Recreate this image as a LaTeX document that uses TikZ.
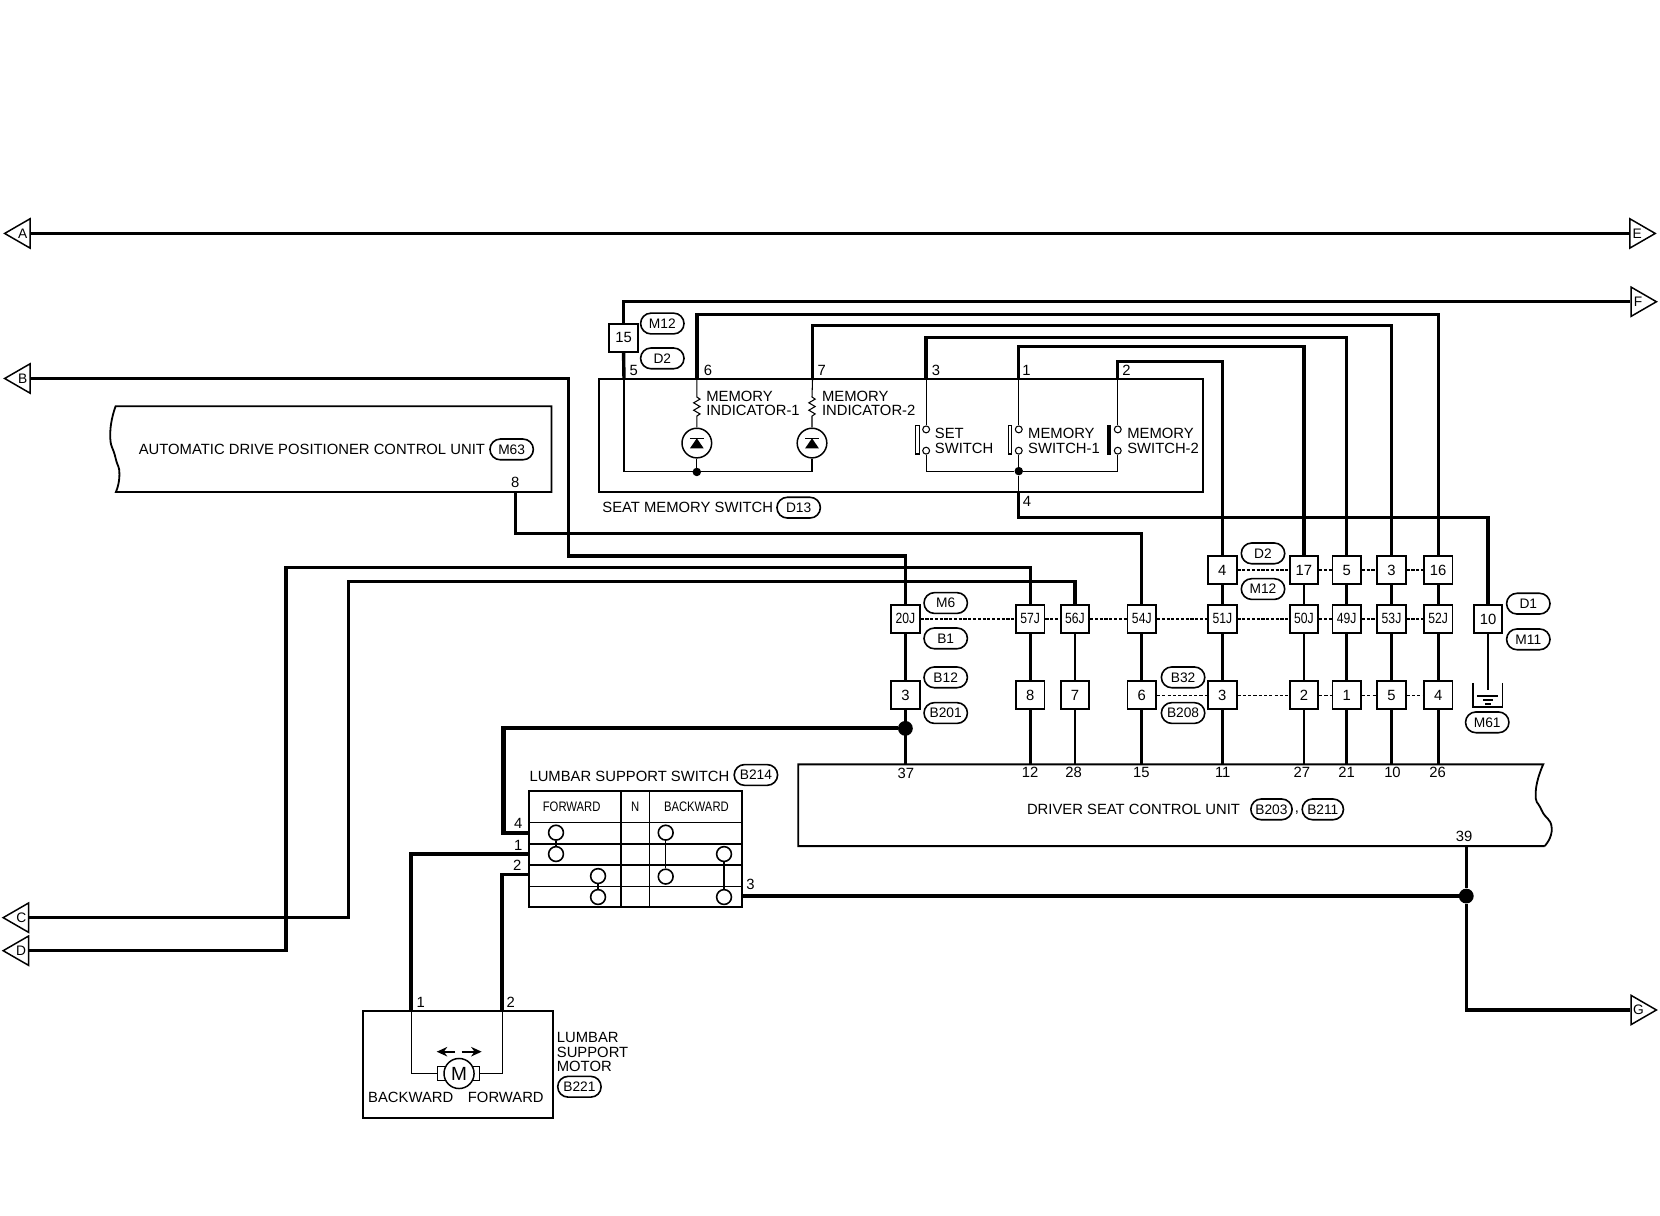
\documentclass[tikz,border=0pt]{standalone}
\usepackage{fontspec}
\usepackage{tikz}
\usetikzlibrary{shapes.geometric,shapes.misc,arrows.meta}
\setmainfont{Liberation Sans}
\newfontfamily\condfont[FakeStretch=0.82]{Liberation Sans}
\newcommand{\lblfont}{\fontsize{14}{14}\selectfont}
\newcommand{\tagfont}{\fontsize{13}{13}\selectfont}
\newcommand{\smallfont}{\condfont\fontsize{14}{14}\selectfont}
\tikzset{
	wire/.style={line width=3.2pt,line join=miter},
	thickwire/.style={line width=4pt,line join=miter},
	medwire/.style={line width=2.5pt},
	thinwire/.style={line width=1pt},
	boxline/.style={line width=1.7pt},
	joint/.style={line width=1.6pt,dash pattern=on 3pt off 1.5pt},
	thinjoint/.style={line width=.8pt,dash pattern=on 3pt off 2pt},
	conn/.style={draw,fill=white,line width=1.7pt,minimum width=27pt,minimum height=26.5pt,inner sep=0pt,font=\lblfont},
	jconn/.style={conn,font=\smallfont},
	tagbox/.style={draw,rounded rectangle,line width=1.5pt,minimum width=41pt,minimum height=19.6pt,inner sep=0pt,font=\tagfont},
	lbl/.style={inner sep=0pt,font=\lblfont,anchor=west,align=left},
	pinno/.style={inner sep=0pt,font=\lblfont},
	offleft/.style={draw,isosceles triangle,isosceles triangle apex angle=60,shape border rotate=180,minimum height=24pt,inner sep=0pt,line width=1.4pt,font=\tagfont,anchor=apex},
	offright/.style={offleft,shape border rotate=0},
	dot/.style={circle,fill=black,inner sep=0pt,minimum size=8pt},
	bigdot/.style={circle,fill=black,inner sep=0pt,minimum size=14pt},
	contact/.style={draw,circle,fill=white,line width=1.5pt,inner sep=0pt,minimum size=14pt},
	terminal/.style={draw,circle,fill=white,line width=1pt,inner sep=0pt,minimum size=6.5pt},
	lamp/.style={draw,circle,line width=1.4pt,inner sep=0pt,minimum size=28pt}
}
\begin{document}
\begin{tikzpicture}[x=1pt,y=-1pt]
	\useasboundingbox (0,0) rectangle (1568,1148.6);
	\node[offleft] (A) at (3,220.5) {A};
	\node[offleft] (B) at (3,357.5) {B};
	\node[offleft] (C) at (1.6,866.8) {C};
	\node[offleft] (D) at (1.6,898) {D};
	\node[offright,anchor=apex] (E) at (1564.9,220.5) {E};
	\node[offright,anchor=apex] (F) at (1566,285) {F};
	\node[offright,anchor=apex] (G) at (1566,954) {G};
	\draw[boxline] (565.5,358) rectangle (1136.4,464.4);
	\draw[boxline] (520.9,383.8) -- (109.2,383.8) -- plot[smooth,tension=1] coordinates {(109.2,383.8) (104.1,410) (109,432) (112.8,448) (109.5,464.7)} -- (520.9,464.7) -- cycle;
	\draw[boxline] (1459,799.2) -- (754,799.2) -- (754,722) -- (1457.7,722) -- plot[smooth,tension=1] coordinates {(1457.7,722) (1450.6,748) (1456,765) (1465.7,782) (1459,799.2)};
	\draw[boxline] (342.6,954.7) rectangle (522.7,1056.4);
	\coordinate (sw5) at (589.4,358);
	\coordinate (sw6) at (658.2,358);
	\coordinate (sw7) at (767.5,358);
	\coordinate (sw3) at (874.8,358);
	\coordinate (sw1) at (962.3,358);
	\coordinate (sw2) at (1055.8,358);
	\coordinate (sw4) at (962.3,464.4);
	\coordinate (up6) at (658.2,296.9);
	\coordinate (up7) at (767.5,307.5);
	\coordinate (up3) at (874.8,318.6);
	\coordinate (up1) at (962.3,327.5);
	\coordinate (up2) at (1055.8,341.6);
	\coordinate (down4) at (962.3,488.7);
	\coordinate (upB) at (536.9,525);
	\coordinate (upC) at (329,549);
	\coordinate (upD) at (270,536);
	\coordinate (m63p8) at (487,464.7);
	\coordinate (down8) at (487,504);
	\coordinate (u37) at (855.2,722);
	\coordinate (u12) at (973.1,722);
	\coordinate (u28) at (1015.4,722);
	\coordinate (u15) at (1078.5,722);
	\coordinate (u11) at (1154.6,722);
	\coordinate (u27) at (1231.7,722);
	\coordinate (u21) at (1272.1,722);
	\coordinate (u10) at (1314.4,722);
	\coordinate (u26) at (1358.5,722);
	\coordinate (u39) at (1385,799.2);
	\coordinate (gndtop) at (1405.6,652);
	\coordinate (mot1) at (388.3,954.7);
	\coordinate (mot2) at (474.2,954.7);
	\coordinate (sw44) at (475.5,688);
	\coordinate (tbl4) at (500,786.6);
	\coordinate (tbl1) at (500,806.7);
	\coordinate (tbl2) at (500,825.9);
	\coordinate (tbl3) at (700.5,846.4);
	\node[conn] (c15) at (589,319) {15};
	\node[conn] (a4) at (1154.6,538.5) {4};
	\node[conn] (a17) at (1231.7,538.5) {17};
	\node[conn] (a5) at (1272.1,538.5) {5};
	\node[conn] (a3) at (1314.4,538.5) {3};
	\node[conn] (a16) at (1358.5,538.5) {16};
	\node[jconn] (j20) at (855.2,584.5) {20J};
	\node[jconn] (j57) at (973.1,584.5) {57J};
	\node[jconn] (j56) at (1015.4,584.5) {56J};
	\node[jconn] (j54) at (1078.5,584.5) {54J};
	\node[jconn] (j51) at (1154.6,584.5) {51J};
	\node[jconn] (j50) at (1231.7,584.5) {50J};
	\node[jconn] (j49) at (1272.1,584.5) {49J};
	\node[jconn] (j53) at (1314.4,584.5) {53J};
	\node[jconn] (j52) at (1358.5,584.5) {52J};
	\node[conn] (c10) at (1405.6,585) {10};
	\node[conn] (b3) at (855.2,656.5) {3};
	\node[conn] (b8) at (973.1,656.5) {8};
	\node[conn] (b7) at (1015.4,656.5) {7};
	\node[conn] (b6) at (1078.5,656.5) {6};
	\node[conn] (d3) at (1154.6,656.5) {3};
	\node[conn] (d2) at (1231.7,656.5) {2};
	\node[conn] (d1) at (1272.1,656.5) {1};
	\node[conn] (d5) at (1314.4,656.5) {5};
	\node[conn] (d4) at (1358.5,656.5) {4};
	\node[bigdot] (dot37) at (855.2,688) {};
	\node[bigdot] (dot39) at (1385,846.4) {};
	\draw[wire] (A.east) -- (E.west);
	\draw[wire] (F.west) -| (c15.north);
	\draw[wire] (c15.south) -- (sw5);
	\draw[wire] (sw6) -- (up6) -| (a16.north);
	\draw[wire] (sw7) -- (up7) -| (a3.north);
	\draw[wire] (sw3) -- (up3) -| (a5.north);
	\draw[wire] (sw1) -- (up1) -| (a17.north);
	\draw[wire] (sw2) -- (up2) -| (a4.north);
	\draw[wire] (sw4) -- (down4) -| (c10.north);
	\draw[wire] (B.east) -| (upB) -| (j20.north);
	\draw[wire] (C.east) -| (upC) -| (j56.north);
	\draw[wire] (D.east) -| (upD) -| (j57.north);
	\draw[wire] (m63p8) -- (down8) -| (j54.north);
	\foreach \top/\mid in {a4/j51,a17/j50,a5/j49,a3/j53,a16/j52} {
		\draw[medwire] (\top.south) -- (\mid.north);
	}
	\foreach \mid/\low in {j20/b3,j57/b8,j56/b7,j54/b6,j51/d3,j50/d2,j49/d1,j53/d5,j52/d4} {
		\draw[medwire] (\mid.south) -- (\low.north);
	}
	\foreach \low/\pin in {b3/u37,b8/u12,b7/u28,b6/u15,d3/u11,d2/u27,d1/u21,d5/u10,d4/u26} {
		\draw[medwire] (\low.south) -- (\pin);
	}
	\draw[medwire] (c10.south) -- (gndtop);
	\foreach \s/\t in {a4/a17,a17/a5,a5/a3,a3/a16,j20/j57,j57/j56,j56/j54,j54/j51,j51/j50,j50/j49,j49/j53,j53/j52} {
		\draw[joint] (\s.east) -- (\t.west);
	}
	\foreach \s/\t in {b6/d3,d3/d2,d2/d1,d1/d5,d5/d4} {
		\draw[thinjoint] (\s.east) -- (\t.west);
	}
	\draw[thickwire] (dot37) -| (sw44 |- tbl4) -- (tbl4);
	\draw[wire] (u39) -- (dot39);
	\draw[wire] (tbl3) -- (dot39);
	\draw[wire] (dot39) |- (G.west);
	\draw[thickwire] (tbl1) -| (mot1);
	\draw[wire] (tbl2) -| (mot2);
	\draw[line width=1.3pt] (1391.5,645) -- (1391.5,667.5);
	\draw[line width=1.3pt] (1419,645) -- (1419,667.5);
	\draw[line width=2pt] (1390.5,667.5) -- (1420,667.5);
	\draw[line width=1.2pt] (1395,657.4) -- (1415,657.4);
	\draw[line width=1.2pt] (1401,661.2) -- (1410,661.2);
	\draw[line width=1.2pt] (1403,665) -- (1408,665);
	\foreach \x/\n/\w/\st in {658.2/1/sw6/dot,767/2/sw7/coordinate} {
		\node[lamp] (led\n) at (\x,418.5) {};
		\node[\st] (ledb\n) at (\x,445.8) {};
		\draw[thinwire] (\w) -- (\x,375) -- ++(3,2) -- ++(-6,3.5) -- ++(6,3.5) -- ++(-6,3.5) -- ++(6,3.5) -- ++(-3,2) -- (led\n.north);
		\draw[thinwire] (led\n.south) -- (ledb\n);
		\fill ([shift={(-6.5,5)}]led\n.center) -- ++(13,0) -- ++(-6.5,-9.5) -- cycle;
		\draw[thinwire] ([shift={(-6.5,-4.5)}]led\n.center) -- ++(13,0);
	}
	\draw[thinwire] (sw5) |- (ledb2);
	\foreach \x/\n/\c in {874.8/3/white,962.3/1/white,1055.8/2/black} {
		\node[terminal] (st\n) at (\x,405.6) {};
		\node[terminal] (sb\n) at (\x,425.7) {};
		\draw[thinwire] (sw\n) -- (st\n.north);
		\draw[line width=1.1pt,fill=\c] (\x-10,402) rectangle ++(3.5,26.8);
	}
	\node[dot] (swbus) at (962.3,445) {};
	\draw[thinwire] (sb3.south) |- (swbus) -| (sb2.south);
	\draw[thinwire] (sb1.south) -- (swbus) -- (sw4);
	\node[lbl] (ind1) at (667,381) {MEMORY\\INDICATOR-1};
	\node[lbl] (ind2) at (776.3,381) {MEMORY\\INDICATOR-2};
	\node[lbl] (setsw) at (882.9,416.8) {SET\\SWITCH};
	\node[lbl] (memsw1) at (971,416.8) {MEMORY\\SWITCH-1};
	\node[lbl] (memsw2) at (1064.6,416.8) {MEMORY\\SWITCH-2};
	\node[lbl] (seat) at (568.8,479.5) {SEAT MEMORY SWITCH};
	\node[lbl] (adp) at (130.9,424.5) {AUTOMATIC DRIVE POSITIONER CONTROL UNIT};
	\node[lbl] (dscu) at (969.9,764.5) {DRIVER SEAT CONTROL UNIT};
	\node[pinno] (comma) at (1225,768) {,};
	\node[lbl] (lumsw) at (500,733.6) {LUMBAR SUPPORT SWITCH};
	\node[lbl] (lumm) at (525.8,993.8) {LUMBAR\\SUPPORT\\MOTOR};
	\node[lbl] (back) at (347.6,1036.9) {BACKWARD};
	\node[lbl] (forw) at (441.8,1036.9) {FORWARD};
	\node[tagbox] (tM12) at (625.6,305.6) {M12};
	\node[tagbox] (tD2) at (625.6,338.5) {D2};
	\node[tagbox] (tD13) at (754.4,479.5) {D13};
	\node[tagbox] (tM63) at (483.3,424.5) {M63};
	\node[tagbox] (tD2b) at (1193,522.7) {D2};
	\node[tagbox] (tM12b) at (1193,556.4) {M12};
	\node[tagbox] (tM6) at (893.3,569.6) {M6};
	\node[tagbox] (tB1) at (893.3,603) {B1};
	\node[tagbox] (tB12) at (893.3,639.8) {B12};
	\node[tagbox] (tB201) at (893.3,673.5) {B201};
	\node[tagbox] (tB32) at (1117.5,639.8) {B32};
	\node[tagbox] (tB208) at (1117.5,673.5) {B208};
	\node[tagbox] (tD1) at (1443.6,570.2) {D1};
	\node[tagbox] (tM11) at (1443.6,603.9) {M11};
	\node[tagbox] (tM61) at (1404.8,682.3) {M61};
	\node[tagbox,minimum width=39pt] (tB203) at (1201,764.5) {B203};
	\node[tagbox,minimum width=39pt] (tB211) at (1249.5,764.5) {B211};
	\node[tagbox] (tB214) at (714,732) {B214};
	\node[tagbox] (tB221) at (547.3,1026.5) {B221};
	\node[pinno] (n5) at (598.5,350) {5};
	\node[pinno] (n6) at (668.8,350) {6};
	\node[pinno] (n7) at (776.3,350) {7};
	\node[pinno] (n3) at (884,350) {3};
	\node[pinno] (n1) at (969.5,350) {1};
	\node[pinno] (n2) at (1064,350) {2};
	\node[pinno] (n4) at (970,473.8) {4};
	\node[pinno] (n8) at (486.6,456) {8};
	\node[pinno] (n37) at (855.7,730.5) {37};
	\node[pinno] (n12) at (973,729.5) {12};
	\node[pinno] (n28) at (1014,729.5) {28};
	\node[pinno] (n15) at (1078,729.5) {15};
	\node[pinno] (n11) at (1155,729.5) {11};
	\node[pinno] (n27) at (1229.8,729.5) {27};
	\node[pinno] (n21) at (1272,729.5) {21};
	\node[pinno] (n10) at (1315.3,729.5) {10};
	\node[pinno] (n26) at (1358,729.5) {26};
	\node[pinno] (n39) at (1383,790.3) {39};
	\node[pinno] (t4) at (489.6,777.8) {4};
	\node[pinno] (t1) at (489.6,799) {1};
	\node[pinno] (t2) at (488.5,817) {2};
	\node[pinno] (t3) at (709,835.4) {3};
	\node[pinno] (m1) at (397.4,947) {1};
	\node[pinno] (m2) at (482.4,947) {2};
	\draw[boxline] (499.4,746.9) rectangle (700.6,856.5);
	\draw[line width=2pt] (586.6,746.9) -- (586.6,856.5);
	\draw[thinwire] (613.4,746.9) -- (613.4,856.5);
	\draw[thinwire] (499.4,776.8) -- (700.6,776.8);
	\draw[line width=2pt] (499.4,797.3) -- (700.6,797.3);
	\draw[line width=2pt] (499.4,817.1) -- (700.6,817.1);
	\draw[thinwire] (499.4,837.6) -- (700.6,837.6);
	\node[inner sep=0pt,font=\condfont\fontsize{13}{13}\selectfont] (hforw) at (540,762) {FORWARD};
	\node[inner sep=0pt,font=\condfont\fontsize{13}{13}\selectfont] (hn) at (599.9,762) {N};
	\node[inner sep=0pt,font=\condfont\fontsize{13}{13}\selectfont] (hback) at (657.8,762) {BACKWARD};
	\node[contact] (k1) at (525.2,786.5) {};
	\node[contact] (k2) at (525.2,806.7) {};
	\node[contact] (k3) at (564.9,827.5) {};
	\node[contact] (k4) at (564.9,847.3) {};
	\node[contact] (k5) at (628.8,786.5) {};
	\node[contact] (k6) at (628.8,828) {};
	\node[contact] (k7) at (683.9,806.7) {};
	\node[contact] (k8) at (683.9,847.3) {};
	\draw[medwire] (k1) -- (k2);
	\draw[medwire] (k3) -- (k4);
	\draw[thinwire] (k5) -- (k6);
	\draw[medwire] (k7) -- (k8);
	\node[draw,fill=white,line width=1.2pt,minimum width=39.4pt,minimum height=13.8pt,inner sep=0pt] (motbody) at (433.1,1014) {};
	\draw[thinwire] (mot1) |- (motbody.west);
	\draw[thinwire] (mot2) |- (motbody.east);
	\node[draw,circle,fill=white,line width=1.4pt,minimum size=28.4pt,inner sep=0pt,font=\fontsize{18}{18}\selectfont] (motor) at (433.6,1014) {M};
	\coordinate (arrm1) at (430,993.4);
	\coordinate (arrl) at (412.5,993.4);
	\coordinate (arrm2) at (436,993.4);
	\coordinate (arrr) at (455,993.4);
	\draw[-{Stealth[length=10pt,width=9pt]},line width=1.8pt] (arrm1) -- (arrl);
	\draw[-{Stealth[length=10pt,width=9pt]},line width=1.8pt] (arrm2) -- (arrr);
\end{tikzpicture}
\end{document}
